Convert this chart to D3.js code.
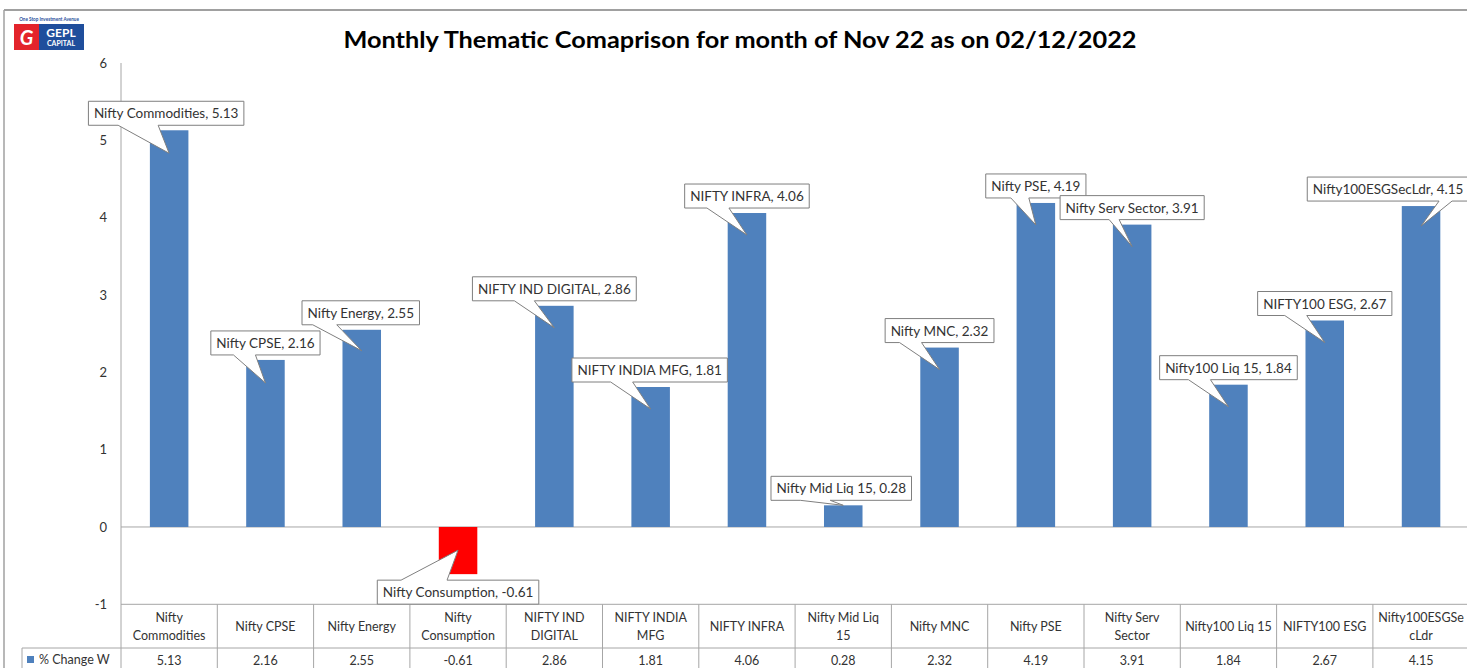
<!DOCTYPE html>
<html>
<head>
<meta charset="utf-8">
<script src="https://cdn.jsdelivr.net/npm/d3@7"></script>
<style>
  body { margin: 0; background: #fff; }
  svg { display: block; font-family: Lato, "Open Sans", sans-serif; }
</style>
</head>
<body>
<script>
// chart data
const categories = ["Nifty Commodities", "Nifty CPSE", "Nifty Energy", "Nifty Consumption",
  "NIFTY IND DIGITAL", "NIFTY INDIA MFG", "NIFTY INFRA", "Nifty Mid Liq 15", "Nifty MNC",
  "Nifty PSE", "Nifty Serv Sector", "Nifty100 Liq 15", "NIFTY100 ESG", "Nifty100ESGSecLdr"]
const changes = [5.13, 2.16, 2.55, -0.61, 2.86, 1.81, 4.06, 0.28, 2.32, 4.19, 3.91, 1.84, 2.67, 4.15]
const tableLabels = [["Nifty", "Commodities"], ["Nifty CPSE"], ["Nifty Energy"], ["Nifty", "Consumption"],
  ["NIFTY IND", "DIGITAL"], ["NIFTY INDIA", "MFG"], ["NIFTY INFRA"], ["Nifty Mid Liq", "15"], ["Nifty MNC"],
  ["Nifty PSE"], ["Nifty Serv", "Sector"], ["Nifty100 Liq 15"], ["NIFTY100 ESG"], ["Nifty100ESGSe", "cLdr"]]
const yTicks = [-1, 0, 1, 2, 3, 4, 5, 6]
const seriesName = "% Change W"
const title = "Monthly Thematic Comaprison for month of Nov 22 as on 02/12/2022"

// callout placement (shift of the box, how deep the pointer goes, where its base sits)
const calloutLayout = [
  {dx: -3, depth: 23, base: [-51, -11]},
  {dx: 0, depth: 23, base: [-32, -10]},
  {dx: -1, depth: 21, base: [-49, -25]},
  {dx: 0, depth: 24, base: [-57, -11]},
  {dx: 0, depth: 22, base: [-40, -20]},
  {dx: -1, depth: 22, base: [-40, -18]},
  {dx: 0, depth: 22, base: [-40, -18]},
  {dx: -2, depth: 0, base: [-43, -13]},
  {dx: 0, depth: 22, base: [-40, -18]},
  {dx: 0, depth: 22, base: [-25, -7]},
  {dx: 0, depth: 22, base: [-23, -13]},
  {dx: 0, depth: 22, base: [-40, -18]},
  {dx: 0, depth: 22, base: [-40, -18]},
  {dx: -33, depth: 20, base: [18, 31]}
]

const W = 1467, H = 668
const left = 121, tableTop = 604.3, rowSplit = 648
const gridColor = "#a6a6a6", textColor = "#333"

// plain hyphen for negatives, like the original
let fmtTick = (d) => String(d)
let fmtVal = (d) => d.toFixed(2)

let svg = d3.select("body").append("svg")
  .attr("width", W)
  .attr("height", H)

// outer chart frame
svg.append("line").attr("x1", 4).attr("x2", W).attr("y1", 10).attr("y2", 10)
  .attr("stroke", "#a0a0a0").attr("stroke-width", 2)
svg.append("line").attr("x1", 4).attr("x2", 4).attr("y1", 10).attr("y2", H)
  .attr("stroke", "#a0a0a0").attr("stroke-width", 1.5)

// logo
let logo = svg.append("g").attr("transform", "translate(14,17)")
logo.append("text").attr("x", 35).attr("y", 4).attr("text-anchor", "middle")
  .attr("font-size", "4.6px").attr("font-weight", "bold").attr("fill", "#1f4e9c")
  .text("One Stop Investment Avenue")
logo.append("rect").attr("x", 0).attr("y", 7).attr("width", 25).attr("height", 26).attr("fill", "#e3242b")
logo.append("rect").attr("x", 25).attr("y", 7).attr("width", 45).attr("height", 26).attr("fill", "#1f4e9c")
logo.append("text").attr("x", 12.5).attr("y", 28).attr("text-anchor", "middle")
  .attr("font-size", "20px").attr("font-weight", "bold").attr("font-style", "italic")
  .attr("fill", "#fff").text("G")
logo.append("text").attr("x", 47).attr("y", 20).attr("text-anchor", "middle")
  .attr("font-size", "12px").attr("font-weight", "bold").attr("fill", "#fff").text("GEPL")
logo.append("text").attr("x", 47).attr("y", 29).attr("text-anchor", "middle")
  .attr("font-size", "7px").attr("font-weight", "bold").attr("fill", "#fff").text("CAPITAL")

// title
svg.append("text")
  .attr("x", 740)
  .attr("y", 48)
  .attr("text-anchor", "middle")
  .attr("font-size", "22px")
  .attr("font-weight", "bold")
  .attr("fill", "#000")
  .attr("textLength", 793)
  .attr("lengthAdjust", "spacingAndGlyphs")
  .text(title)

// scales
const x = d3.scaleBand().domain(categories).range([left, left + categories.length * 96.3])
const y = d3.scaleLinear().domain([-1, 6]).range([tableTop, 63])
const bw = x.bandwidth() * 0.4

// y axis
let yAxis = svg.append("g")
  .attr("transform", "translate(" + left + ",0)")
  .call(d3.axisLeft(y).tickValues(yTicks).tickSize(0).tickPadding(14).tickFormat(fmtTick))
yAxis.select(".domain").remove()
yAxis.selectAll("text").attr("font-size", "13px").attr("fill", textColor).attr("font-family", "Lato, sans-serif")
svg.append("line").attr("x1", left).attr("x2", left).attr("y1", y(6)).attr("y2", H)
  .attr("stroke", gridColor)

// zero line
svg.append("line").attr("x1", left).attr("x2", W).attr("y1", y(0)).attr("y2", y(0))
  .attr("stroke", gridColor)

// bars
svg.append("g").selectAll("rect")
  .data(categories)
  .join("rect")
  .attr("x", (d) => x(d) + (x.bandwidth() - bw) / 2)
  .attr("width", bw)
  .attr("y", (d, i) => y(Math.max(0, changes[i])))
  .attr("height", (d, i) => Math.abs(y(changes[i]) - y(0)))
  .attr("fill", (d, i) => changes[i] < 0 ? "#ff0000" : "#4f81bd")

// data table
let table = svg.append("g")
table.append("line").attr("x1", left).attr("x2", W).attr("y1", tableTop).attr("y2", tableTop).attr("stroke", gridColor)
table.append("line").attr("x1", 22).attr("x2", W).attr("y1", rowSplit).attr("y2", rowSplit).attr("stroke", gridColor)
table.append("line").attr("x1", 22).attr("x2", 22).attr("y1", rowSplit).attr("y2", H).attr("stroke", gridColor)
table.selectAll("line.col")
  .data(categories)
  .join("line")
  .attr("class", "col")
  .attr("x1", (d) => x(d) + x.bandwidth())
  .attr("x2", (d) => x(d) + x.bandwidth())
  .attr("y1", tableTop)
  .attr("y2", H)
  .attr("stroke", gridColor)

table.selectAll("text.cat")
  .data(categories)
  .join("text")
  .attr("class", "cat")
  .attr("text-anchor", "middle")
  .attr("font-size", "12.5px")
  .attr("fill", textColor)
  .each(function (d, i) {
    let lines = tableLabels[i]
    let t = d3.select(this)
    lines.forEach((l, k) => {
      t.append("tspan")
        .attr("x", x(d) + x.bandwidth() / 2)
        .attr("y", lines.length == 1 ? 631 : 622 + k * 18)
        .text(l)
    })
  })

table.selectAll("text.val")
  .data(categories)
  .join("text")
  .attr("class", "val")
  .attr("x", (d) => x(d) + x.bandwidth() / 2)
  .attr("y", 665)
  .attr("text-anchor", "middle")
  .attr("font-size", "12.5px")
  .attr("fill", textColor)
  .text((d, i) => fmtVal(changes[i]))

table.append("rect").attr("x", 27).attr("y", 656).attr("width", 7).attr("height", 7).attr("fill", "#4f81bd")
table.append("text").attr("x", 39).attr("y", 664).attr("font-size", "12.5px").attr("fill", textColor).text(seriesName)

// callouts
let callouts = svg.append("g")
categories.forEach((d, i) => {
  let v = changes[i]
  let lay = calloutLayout[i]
  let g = callouts.append("g")
  let label = g.append("text")
    .attr("font-size", "13.5px")
    .attr("fill", textColor)
    .attr("text-anchor", "middle")
    .text(d + ", " + v)
  let tw = label.node().getComputedTextLength()
  let bw2 = tw + 11, bh = 24
  let tipX = x(d) + x.bandwidth() / 2
  let cx = tipX + lay.dx
  let x0 = cx - bw2 / 2, x1 = cx + bw2 / 2
  let b0 = tipX + lay.base[0], b1 = tipX + lay.base[1]
  let path
  if (v >= 0) {
    let bot = y(v) - 5, top = bot - bh
    let tipY = y(v) + lay.depth
    path = [[x0, top], [x1, top], [x1, bot], [b1, bot], [tipX, tipY], [b0, bot], [x0, bot]]
    label.attr("x", cx).attr("y", top + 17)
  } else {
    let top = y(v) + 6, bot = top + bh
    let tipY = y(v) - lay.depth
    path = [[x0, top], [b0, top], [tipX, tipY], [b1, top], [x1, top], [x1, bot], [x0, bot]]
    label.attr("x", cx).attr("y", top + 17)
  }
  g.insert("path", "text")
    .attr("d", d3.line()(path) + "Z")
    .attr("fill", "#fff")
    .attr("stroke", "#7f7f7f")
    .attr("stroke-width", 1)
})
</script>
</body>
</html>
